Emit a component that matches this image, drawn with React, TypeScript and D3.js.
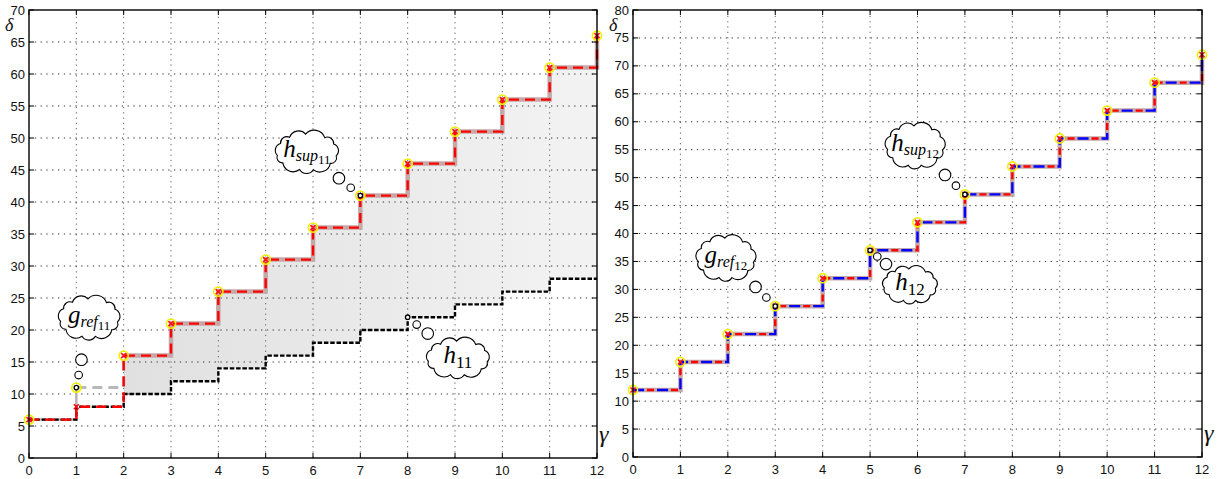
import React from 'react';
import * as d3 from 'd3';

const W = 1221;
const H = 479;

// data
const gamma = [0, 1, 2, 3, 4, 5, 6, 7, 8, 9, 10, 11, 12];
const gRef11 = [6, 11, 16, 21, 26, 31, 36, 41, 46, 51, 56, 61, 66];
const hSup11 = [6, 8, 16, 21, 26, 31, 36, 41, 46, 51, 56, 61, 66];
const h11 = [6, 8, 10, 12, 14, 16, 18, 20, 22, 24, 26, 28, 28];
const gRef12 = [12, 17, 22, 27, 32, 37, 42, 47, 52, 57, 62, 67, 72];
const deltaTicks11 = [0, 5, 10, 15, 20, 25, 30, 35, 40, 45, 50, 55, 60, 65, 70];
const deltaTicks12 = [0, 5, 10, 15, 20, 25, 30, 35, 40, 45, 50, 55, 60, 65, 70, 75, 80];

const FONT = "'Liberation Sans', Arial, sans-serif";
const SERIF = "'Liberation Serif', 'DejaVu Serif', serif";

type Pt = [number, number];

function cloudPath(cx: number, cy: number, rx: number, ry: number, n: number) {
  const pts: Pt[] = d3.range(n).map(i => {
    const a = -Math.PI / 2 + (i * 2 * Math.PI) / n + (i % 2 ? 0.07 : -0.04);
    return [cx + rx * Math.cos(a), cy + ry * Math.sin(a)];
  });
  let d = `M${pts[0][0]},${pts[0][1]}`;
  for (let i = 0; i < n; i++) {
    const q = pts[(i + 1) % n];
    const p = pts[i];
    const r = Math.hypot(q[0] - p[0], q[1] - p[1]) * 0.58;
    d += ` A${r},${r} 0 0 1 ${q[0]},${q[1]}`;
  }
  return d + 'Z';
}

function Cloud({ cx, cy, w, h, ax, ay, main, sub, subsub }: any) {
  const b1: Pt = [ax + (cx - ax) * 0.18, ay + (cy - ay) * 0.18];
  const b2: Pt = [ax + (cx - ax) * 0.4, ay + (cy - ay) * 0.4];
  return (
    <g>
      <circle cx={b1[0]} cy={b1[1]} r={3.8} fill="white" stroke="black" strokeWidth={1.1} />
      <circle cx={b2[0]} cy={b2[1]} r={5.8} fill="white" stroke="black" strokeWidth={1.1} />
      <path d={cloudPath(cx, cy, w / 2 - 5, h / 2 - 5, 11)} fill="white" stroke="black" strokeWidth={1.1} />
      <text x={cx} y={cy + 5} textAnchor="middle" fontFamily={SERIF} fontSize={25} fontStyle="italic">
        <tspan>{main}</tspan>
        {subsub ? (
          <>
            <tspan fontSize={16} dy={4}>{sub}</tspan>
            <tspan fontSize={13} fontStyle="normal" dy={3}>{subsub}</tspan>
          </>
        ) : (
          <tspan fontSize={17} fontStyle="normal" dy={5}>{sub}</tspan>
        )}
      </text>
    </g>
  );
}

function Marker({ x, y, ring, cross, dot }: any) {
  return (
    <g>
      {ring && <circle cx={x} cy={y} r={4.6} fill="none" stroke="#f0f000" strokeWidth={1.6} />}
      {cross && (
        <g stroke="#ff1010" strokeWidth={1.6}>
          <line x1={x - 2.5} y1={y - 2.5} x2={x + 2.5} y2={y + 2.5} />
          <line x1={x - 2.5} y1={y + 2.5} x2={x + 2.5} y2={y - 2.5} />
        </g>
      )}
      {dot && <circle cx={x} cy={y} r={2.2} fill="white" stroke="black" strokeWidth={1.3} />}
    </g>
  );
}

function Grid({ x, y, yTicks }: any) {
  const [x0, x1] = x.range();
  const [y0, y1] = y.range();
  return (
    <g>
      {gamma.slice(1, -1).map(g => (
        <line key={'vg' + g} x1={x(g)} x2={x(g)} y1={y0} y2={y1} stroke="#666" strokeWidth={1} strokeDasharray="1.3 4" />
      ))}
      {yTicks.slice(1, -1).map((t: number) => (
        <line key={'hg' + t} x1={x0} x2={x1} y1={y(t)} y2={y(t)} stroke="#333" strokeWidth={1} strokeDasharray="1.3 4.5" />
      ))}
    </g>
  );
}

function Axes({ x, y, yTicks }: any) {
  const [x0, x1] = x.range();
  const [y0, y1] = y.range();
  const tk = 5;
  return (
    <g fontFamily={FONT} fontSize={13} fill="#111">
      <rect x={x0} y={y1} width={x1 - x0} height={y0 - y1} fill="none" stroke="black" strokeWidth={1.4} />
      {gamma.map(g => (
        <g key={'xt' + g}>
          <line x1={x(g)} x2={x(g)} y1={y0} y2={y0 - tk} stroke="black" />
          <line x1={x(g)} x2={x(g)} y1={y1} y2={y1 + tk} stroke="black" />
          <text x={x(g)} y={y0 + 17} textAnchor="middle">{g}</text>
        </g>
      ))}
      {yTicks.map((t: number) => (
        <g key={'yt' + t}>
          <line x1={x0} x2={x0 + tk} y1={y(t)} y2={y(t)} stroke="black" />
          <line x1={x1} x2={x1 - tk} y1={y(t)} y2={y(t)} stroke="black" />
          <text x={x0 - 4} y={y(t) + 4.5} textAnchor="end">{t}</text>
        </g>
      ))}
      <text x={x0 - 24} y={y1 + 21} fontFamily={SERIF} fontStyle="italic" fontSize={18}>δ</text>
      <text x={x1 + 2} y={y0 - 16} fontFamily={SERIF} fontStyle="italic" fontSize={24}>γ</text>
    </g>
  );
}

function LeftPanel() {
  const x = d3.scaleLinear().domain([0, 12]).range([29, 597]);
  const y = d3.scaleLinear().domain([0, 70]).range([458, 10]);
  const line = d3.line<number>().x((_, i) => x(gamma[i])).y(d => y(d)).curve(d3.curveStepAfter);
  const area = d3
    .area<number>()
    .x(i => x(gamma[i]))
    .y0(i => y(h11[i]))
    .y1(i => y(hSup11[i]))
    .curve(d3.curveStepAfter);
  const idx = gamma.map((_, i) => i);
  const stepPart = (arr: number[], from: number, to: number) =>
    d3.line<number>().x((_, i) => x(gamma[from + i])).y(d => y(d)).curve(d3.curveStepAfter)(arr.slice(from, to + 1)) || '';

  return (
    <g>
      <defs>
        <linearGradient id="shade11" x1="0" x2="1" y1="0" y2="0">
          <stop offset="0" stopColor="#dedede" />
          <stop offset="1" stopColor="#f3f3f3" />
        </linearGradient>
      </defs>
      <path d={area(idx.slice(1)) || ''} fill="url(#shade11)" />
      <Grid x={x} y={y} yTicks={deltaTicks11} />
      {/* g_ref: solid grey, dashed on the gap step */}
      <path d={stepPart(gRef11, 0, 1)} fill="none" stroke="#bdb0b0" strokeWidth={2.5} />
      <path d={stepPart(gRef11, 1, 2)} fill="none" stroke="#b8b8b8" strokeWidth={3} strokeDasharray="10 6" />
      <path d={stepPart(gRef11, 2, 12)} fill="none" stroke="#c4a9a9" strokeWidth={4.5} />
      <path d={line(h11) || ''} fill="none" stroke="black" strokeWidth={2.4} strokeDasharray="4.5 1.8" />
      <path d={line(hSup11) || ''} fill="none" stroke="#ff0000" strokeWidth={2.4} strokeDasharray="10 6" />
      {idx.map(i => (
        <Marker key={'m' + i} x={x(gamma[i])} y={y(hSup11[i])} ring={hSup11[i] === gRef11[i]} cross dot={i === 7} />
      ))}
      <Marker x={x(gamma[1])} y={y(gRef11[1])} ring dot />
      <Marker x={x(gamma[8])} y={y(h11[8])} dot />
      <Axes x={x} y={y} yTicks={deltaTicks11} />
      <Cloud cx={x(1.27)} cy={y(21.9)} w={68} h={48} ax={x(gamma[1])} ay={y(gRef11[1])} main="g" sub="ref" subsub="11" />
      <Cloud cx={x(5.87)} cy={y(47.8)} w={70} h={46} ax={x(gamma[7])} ay={y(hSup11[7])} main="h" sub="sup" subsub="11" />
      <Cloud cx={x(9.06)} cy={y(15.6)} w={70} h={44} ax={x(gamma[8])} ay={y(h11[8])} main="h" sub="11" />
    </g>
  );
}

function RightPanel() {
  const x = d3.scaleLinear().domain([0, 12]).range([633, 1202]);
  const y = d3.scaleLinear().domain([0, 80]).range([457, 10]);
  const line = d3.line<number>().x((_, i) => x(gamma[i])).y(d => y(d)).curve(d3.curveStepAfter);
  const d = line(gRef12) || '';
  return (
    <g>
      <Grid x={x} y={y} yTicks={deltaTicks12} />
      <path d={d} fill="none" stroke="#c4a9a9" strokeWidth={4.5} />
      <path d={d} fill="none" stroke="#ff0000" strokeWidth={2.4} strokeDasharray="7 17" strokeDashoffset={-14} />
      <path d={d} fill="none" stroke="#0000ff" strokeWidth={2.4} strokeDasharray="11 13" />
      {gamma.map((g, i) => (
        <Marker key={'r' + i} x={x(g)} y={y(gRef12[i])} ring cross dot={i === 3 || i === 5 || i === 7} />
      ))}
      <Axes x={x} y={y} yTicks={deltaTicks12} />
      <Cloud cx={x(1.96)} cy={y(35.6)} w={66} h={50} ax={x(gamma[3])} ay={y(gRef12[3])} main="g" sub="ref" subsub="12" />
      <Cloud cx={x(5.95)} cy={y(55.7)} w={66} h={50} ax={x(gamma[7])} ay={y(gRef12[7])} main="h" sub="sup" subsub="12" />
      <Cloud cx={x(5.84)} cy={y(30.8)} w={62} h={42} ax={x(gamma[5])} ay={y(gRef12[5])} main="h" sub="12" />
    </g>
  );
}

export default function App() {
  return (
    <svg
      width={W}
      height={H}
      style={{ position: 'absolute', left: 0, top: 0, background: 'white' }}
    >
      <LeftPanel />
      <RightPanel />
    </svg>
  );
}
